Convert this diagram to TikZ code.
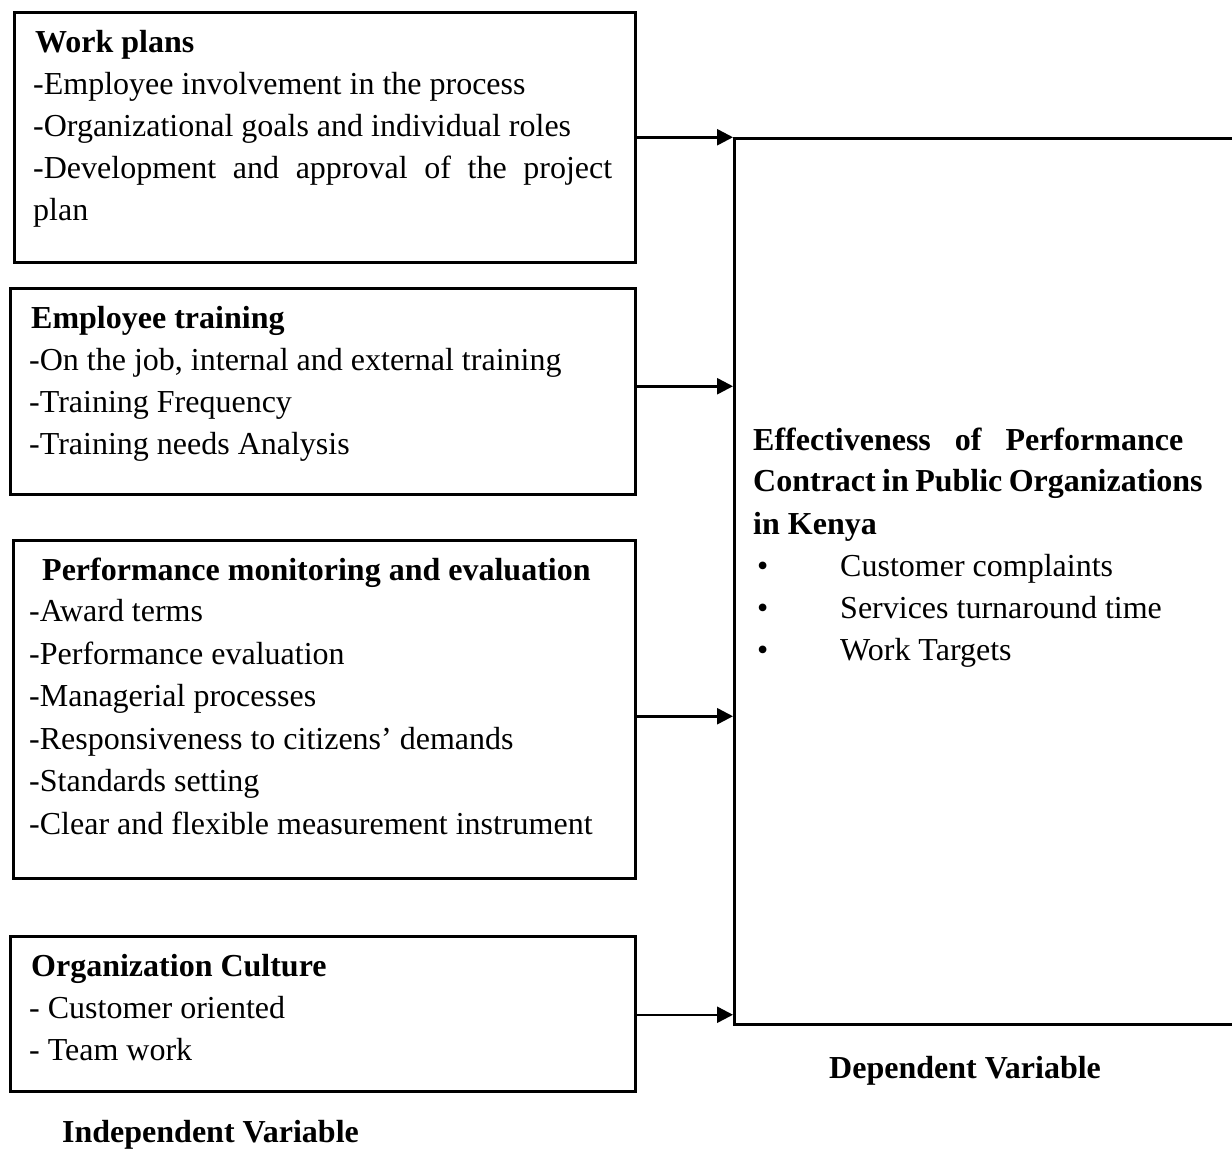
\documentclass[tikz,border=0pt]{standalone}
\usepackage{fontspec}
\setmainfont{Liberation Serif}
\usetikzlibrary{arrows.meta}
\begin{document}
\begin{tikzpicture}[x=1pt,y=-1pt,
  box/.style={draw, line width=2.5pt, inner sep=0pt, anchor=north west},
  txt/.style={anchor=base west, inner sep=0pt, font=\fontsize{32}{38}\selectfont},
  ttl/.style={anchor=base west, inner sep=0pt, font=\fontsize{32}{38}\selectfont\bfseries},
  arr/.style={line width=2.5pt, -{Triangle[length=16pt,width=16pt]}}]
\useasboundingbox (0,0) rectangle (1232,1151);
% boxes
\node[box, minimum width=621pt, minimum height=250pt] (wp) at (13,11) {};
\node[box, minimum width=625pt, minimum height=206pt] (et) at (9,287) {};
\node[box, minimum width=622pt, minimum height=338pt] (pm) at (12,539) {};
\node[box, minimum width=625pt, minimum height=155pt] (oc) at (9,935) {};
\node[box, minimum width=540pt, minimum height=886pt] (dep) at (733,137) {};
% arrows
\draw[arr] (wp.east) -- (wp.east -| dep.west);
\draw[arr] ([yshift=5pt]et.east) -- ([yshift=5pt]et.east -| dep.west);
\draw[arr] ([yshift=-7pt]pm.east) -- ([yshift=-7pt]pm.east -| dep.west);
\draw[arr] ([yshift=-1pt]oc.east) -- ([yshift=-1pt]oc.east -| dep.west);
% box 1
\node[ttl] (t1) at (35,52) {Work plans};
\node[txt] (t1a) at (33,94) {-Employee involvement in the process};
\node[txt] (t1b) at (33,136) {-Organizational goals and individual roles};
\node[txt] (t1c) at (33,178) {\makebox[579pt][s]{-Development\hfill and\hfill approval\hfill of\hfill the\hfill project}};
\node[txt] (t1d) at (33,220) {plan};
% box 2
\node[ttl] (t2) at (31,328) {Employee training};
\node[txt] (t2a) at (29,370) {-On the job, internal and external training};
\node[txt] (t2b) at (29,412) {-Training Frequency};
\node[txt] (t2c) at (29,454) {-Training needs Analysis};
% box 3
\node[ttl] (t3) at (42,580) {Performance monitoring and evaluation};
\node[txt] (t3a) at (29,621) {-Award terms};
\node[txt] (t3b) at (29,664) {-Performance evaluation};
\node[txt] (t3c) at (29,706) {-Managerial processes};
\node[txt] (t3d) at (29,749) {-Responsiveness to citizens’ demands};
\node[txt] (t3e) at (29,791) {-Standards setting};
\node[txt] (t3f) at (29,834) {-Clear and flexible measurement instrument};
% box 4
\node[ttl] (t4) at (31,976) {Organization Culture};
\node[txt] (t4a) at (29,1018) {- Customer oriented};
\node[txt] (t4b) at (29,1060) {- Team work};
% dependent
\node[ttl] (d1) at (753,450) {\makebox[430pt][s]{Effectiveness\hfill of\hfill Performance}};
\node[ttl] (d2) at (753,491) {\spaceskip=0.2em Contract in Public Organizations};
\node[ttl] (d3) at (753,534) {in Kenya};
\node[txt] (b1) at (757,576) {•};
\node[txt] (d4) at (840,576) {Customer complaints};
\node[txt] (b2) at (757,618) {•};
\node[txt] (d5) at (840,618) {Services turnaround time};
\node[txt] (b3) at (757,660) {•};
\node[txt] (d6) at (840,660) {Work Targets};
% captions
\node[ttl] (dv) at (829,1078) {Dependent Variable};
\node[ttl] (iv) at (62,1142) {Independent Variable};
\end{tikzpicture}
\end{document}
